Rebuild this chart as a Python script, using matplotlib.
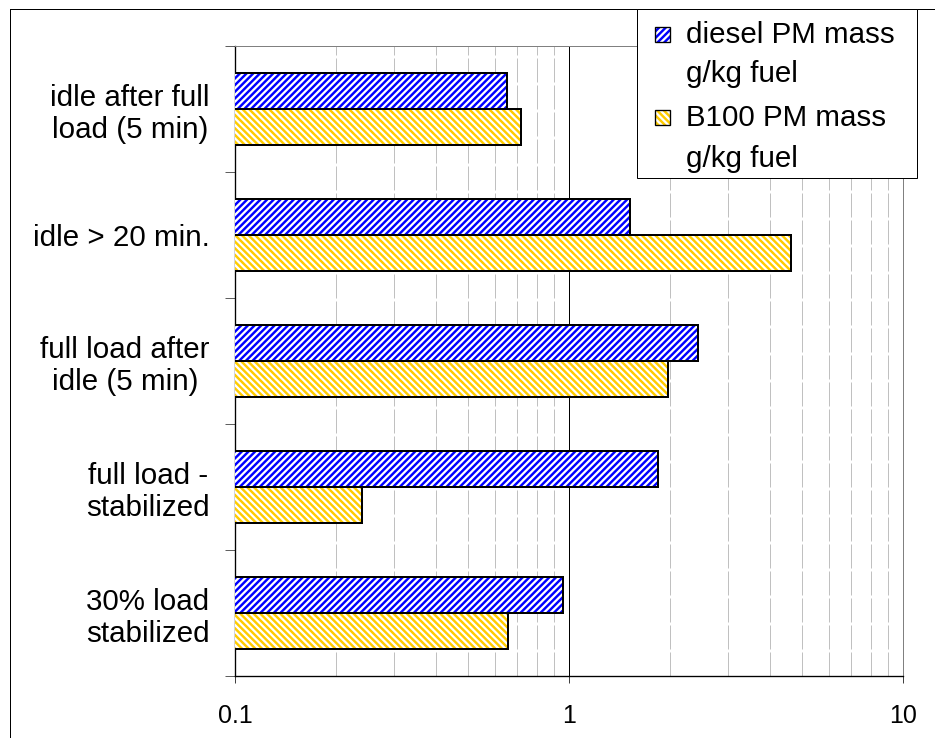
import numpy as np
import matplotlib
matplotlib.use('Agg')
import matplotlib.pyplot as plt
from matplotlib.patches import Rectangle
from matplotlib.lines import Line2D
from matplotlib.ticker import LogLocator, NullFormatter

plt.rcParams['font.family'] = ['Liberation Sans', 'DejaVu Sans']
plt.rcParams['hatch.linewidth'] = 2.2

# data (g/kg fuel, log axis)
categories = ['idle after full\nload (5 min)', 'idle > 20 min.',
              'full load after\nidle (5 min)', 'full load -\nstabilized',
              '30% load\nstabilized']
diesel_pm = [0.65, 1.52, 2.43, 1.85, 0.96]
b100_pm = [0.72, 4.62, 1.98, 0.24, 0.657]
series_names = ['diesel PM mass', 'B100 PM mass']
unit_line = 'g/kg fuel'
x_ticks = [0.1, 1, 10]
x_labels = ['0.1', '1', '10']

W, H, DPI = 935, 738, 80
fig = plt.figure(figsize=(W / DPI, H / DPI), dpi=DPI)
ax = fig.add_axes([235 / W, 1 - 676 / H, (903 - 235) / W, (676 - 46) / H])
ax.set_xscale('log')

y = np.arange(len(categories))
bh = 0.288

# hatch layer, then black outline on top
ax.barh(y - bh / 2, diesel_pm, height=bh, color='white',
        edgecolor='#0000ff', hatch='////', linewidth=0, zorder=3)
ax.barh(y + bh / 2, b100_pm, height=bh, color='white',
        edgecolor='#ffcc00', hatch='\\\\\\\\', linewidth=0, zorder=3)
ax.barh(y - bh / 2, diesel_pm, height=bh, color='none',
        edgecolor='black', linewidth=1.8, zorder=4)
ax.barh(y + bh / 2, b100_pm, height=bh, color='none',
        edgecolor='black', linewidth=1.8, zorder=4)

ax.set_xlim(0.1, 10)
ax.set_ylim(len(categories) - 0.5, -0.5)

ax.set_xticks(x_ticks)
ax.set_xticklabels(x_labels)
ax.xaxis.set_minor_locator(LogLocator(base=10, subs=np.arange(2, 10)))
ax.xaxis.set_minor_formatter(NullFormatter())
ax.tick_params(axis='x', which='major', length=6.3, width=0.9, color='#404040',
               labelsize=22.5, pad=19)
ax.tick_params(axis='x', which='minor', length=0)

ax.set_yticks(y)
ax.set_yticklabels(categories)
ax.set_yticks(np.arange(-0.5, len(categories)), minor=True)
ax.tick_params(axis='y', which='major', length=0, labelsize=26.5, pad=23)
ax.tick_params(axis='y', which='minor', length=9, width=0.9, color='#606060')
for lbl in ax.get_yticklabels():
    lbl.set_multialignment('center')

ax.grid(True, axis='x', which='minor', color='#c0c0c0', linewidth=0.9,
        linestyle=(0, (24, 3)), zorder=1)
ax.axvline(1, color='black', linewidth=0.9, zorder=1)

for side in ['left', 'bottom']:
    ax.spines[side].set_color('black')
    ax.spines[side].set_linewidth(1.2)
for side in ['top', 'right']:
    ax.spines[side].set_color('#808080')
    ax.spines[side].set_linewidth(0.9)

# outer chart frame (left and top edges visible)
fig.add_artist(Line2D([10 / W, 10 / W], [0, 1 - 9 / H], transform=fig.transFigure,
                      color='black', linewidth=0.9))
fig.add_artist(Line2D([10 / W, 1], [1 - 9 / H, 1 - 9 / H], transform=fig.transFigure,
                      color='black', linewidth=0.9))

# legend box
fig.add_artist(Rectangle((637 / W, 1 - 178 / H), (917 - 637) / W, (178 - 9) / H,
                         transform=fig.transFigure, facecolor='white',
                         edgecolor='black', linewidth=0.9, zorder=5))
hatch_colors = ['#0000ff', '#ffcc00']
hatches = ['////', '\\\\\\\\']
patch_tops = [27, 110]
baselines = [(43, 82), (126, 167)]
for i in range(2):
    rect = (655 / W, 1 - (patch_tops[i] + 15) / H)
    fig.add_artist(Rectangle(rect, 15 / W, 15 / H, transform=fig.transFigure,
                             facecolor='white', edgecolor=hatch_colors[i],
                             hatch=hatches[i], linewidth=0, zorder=6))
    fig.add_artist(Rectangle(rect, 15 / W, 15 / H, transform=fig.transFigure,
                             facecolor='none', edgecolor='black',
                             linewidth=1.2, zorder=7))
    fig.text(686 / W, 1 - baselines[i][0] / H, series_names[i], fontsize=26.5,
             va='baseline', ha='left', zorder=8)
    fig.text(686 / W, 1 - baselines[i][1] / H, unit_line, fontsize=26.5,
             va='baseline', ha='left', zorder=8)

fig.savefig('out.png', dpi=DPI, facecolor='white')
